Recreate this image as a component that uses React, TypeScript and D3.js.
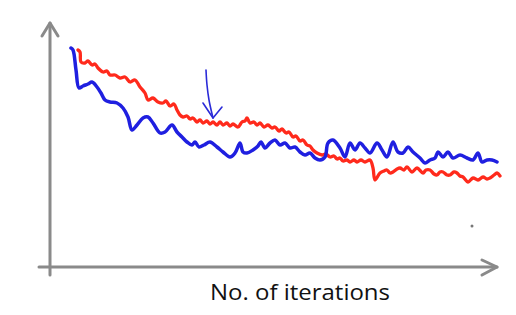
import React from "react";
import * as d3 from "d3";

const W = 516;
const H = 315;

// iteration (x) and cost (y) readings
const blueIter = [21,23,26,29,33,38,42,47,51,55,60,67,73,78,82,87,93,98,103,110,115,122,127,132,137,142,145,149,154,160,167,173,180,185,190,193,197,203,208,211,215,220,225,230,235,240,245,250,255,260,265,270,275,278,283,290,295,300,305,310,315,320,327,332,337,343,348,353,358,363,370,375,380,385,388,393,398,403,410,417,423,428,432,437,442,447];
const blueCost = [219,217,197,179,181,183,185,180,174,167,165,164,159,150,137,142,149,150,144,134,135,142,135,130,125,122,125,120,122,125,120,115,110,114,124,115,114,117,121,125,119,124,127,122,124,119,120,115,112,114,109,107,110,124,127,119,110,124,117,124,119,114,124,117,110,125,115,114,120,115,109,104,107,109,115,110,115,109,112,109,107,114,105,107,107,105];

const redIter = [28,30,31,35,38,42,45,48,53,57,60,65,70,75,80,85,90,95,98,103,108,113,116,120,124,127,130,133,137,140,143,147,150,153,157,160,163,167,170,173,177,180,183,188,192,195,197,200,204,207,210,214,218,222,225,229,232,236,239,243,246,250,253,257,260,263,267,272,276,280,284,287,290,293,297,300,304,307,311,315,320,323,325,330,334,337,340,343,347,350,354,357,362,367,373,376,380,384,387,390,393,397,400,404,407,410,413,418,423,428,433,437,440,444,447,450];
const redCost = [217,215,205,204,206,202,203,199,195,196,192,192,189,190,185,187,180,174,167,169,165,164,166,161,163,157,152,150,151,148,149,145,147,144,146,143,145,142,145,142,144,141,143,140,145,146,149,144,145,142,144,140,142,139,140,136,138,134,135,130,131,126,127,122,121,117,114,112,113,110,111,108,109,106,107,105,107,105,107,105,107,99,87,94,96,97,94,95,98,99,97,100,95,99,94,97,97,93,92,95,95,92,92,95,94,91,90,85,89,87,90,88,89,92,94,91];

// annotation arrow (iteration, cost) readings
const arrowShaftIter = [156, 157, 159, 163];
const arrowShaftCost = [197, 182, 167, 149];
const arrowHeadIter = [153, 163, 172];
const arrowHeadCost = [164, 149, 160];

const xLabel = "No. of iterations";

export default function App() {
  const x = d3.scaleLinear().domain([0, 450]).range([50, 500]);
  const y = d3.scaleLinear().domain([0, 250]).range([267, 17]);

  const line = d3
    .line<[number, number]>()
    .x((d) => x(d[0]))
    .y((d) => y(d[1]))
    .curve(d3.curveCatmullRom.alpha(0.5));
  const straight = d3
    .line<[number, number]>()
    .x((d) => x(d[0]))
    .y((d) => y(d[1]));

  const blue = blueIter.map((v, i) => [v, blueCost[i]] as [number, number]);
  const red = redIter.map((v, i) => [v, redCost[i]] as [number, number]);
  const shaft = arrowShaftIter.map((v, i) => [v, arrowShaftCost[i]] as [number, number]);
  const head = arrowHeadIter.map((v, i) => [v, arrowHeadCost[i]] as [number, number]);

  const axisColor = "#8a8a8a";
  const x0 = x(0);
  const y0 = y(0);
  const xEnd = x(447);
  const yTop = y(244);

  return (
    <svg
      width={W}
      height={H}
      style={{ position: "fixed", left: 0, top: 0, background: "#fff" }}
    >
      <rect width={W} height={H} fill="#fff" />
      {/* axes */}
      <g stroke={axisColor} strokeWidth={3} fill="none" strokeLinecap="round" strokeLinejoin="round">
        <line x1={x0} y1={y0 + 8} x2={x0} y2={yTop} />
        <polyline points={`${x0 - 8},${yTop + 13} ${x0},${yTop} ${x0 + 8},${yTop + 13}`} />
        <line x1={x0 - 11} y1={y0} x2={xEnd} y2={y0} />
        <polyline points={`${xEnd - 15},${y0 - 7} ${xEnd},${y0} ${xEnd - 15},${y0 + 8}`} />
      </g>
      {/* series */}
      <path d={line(red) || ""} fill="none" stroke="#ff2a1c" strokeWidth={3.3} strokeLinejoin="round" strokeLinecap="round" />
      <path d={line(blue) || ""} fill="none" stroke="#1f1fe0" strokeWidth={3.5} strokeLinejoin="round" strokeLinecap="round" />
      {/* annotation arrow */}
      <path d={line(shaft) || ""} fill="none" stroke="#2a2ad8" strokeWidth={1.6} strokeLinecap="round" />
      <path d={straight(head) || ""} fill="none" stroke="#2a2ad8" strokeWidth={1.6} strokeLinecap="round" strokeLinejoin="round" />
      {/* speck */}
      <circle cx={x(422)} cy={y(41)} r={1.5} fill="#777" />
      {/* label */}
      <text
        x={300}
        y={300}
        textAnchor="middle"
        fontFamily="'Open Sans', 'Liberation Sans', sans-serif"
        fontSize={22}
        fill="#111"
        textLength={180}
        lengthAdjust="spacingAndGlyphs"
      >
        {xLabel}
      </text>
    </svg>
  );
}
